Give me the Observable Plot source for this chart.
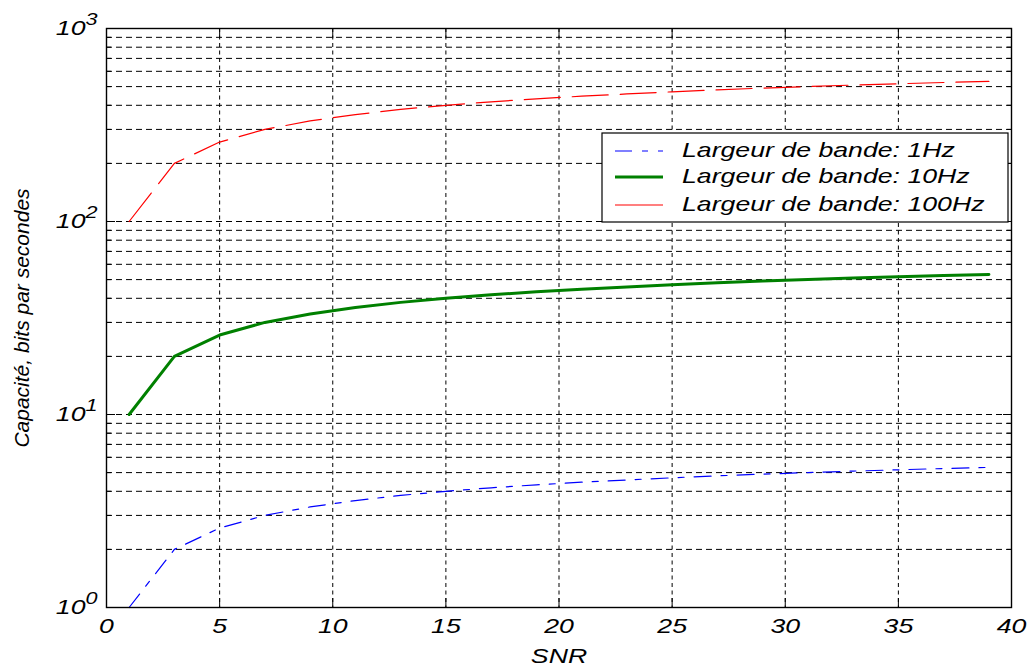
<!DOCTYPE html>
<html><head><meta charset="utf-8">
<script src="https://cdn.jsdelivr.net/npm/d3@7"></script>
<script src="https://cdn.jsdelivr.net/npm/@observablehq/plot@0.6"></script>
<style>
html,body{margin:0;padding:0;background:#fff;}
#chart{width:1027px;height:665px;}
</style></head><body><div id="chart"></div>
<script>
// SNR values (x)
const snr = [1,3,5,7,9,11,13,15,17,19,21,23,25,27,29,31,33,35,37,39];
// Capacité (bits/s) for each bandwidth
const cap1Hz   = [1.00,2.00,2.58,3.00,3.32,3.58,3.81,4.00,4.17,4.32,4.46,4.58,4.70,4.81,4.91,5.00,5.09,5.17,5.25,5.32];
const cap10Hz  = [10.0,20.0,25.8,30.0,33.2,35.8,38.1,40.0,41.7,43.2,44.6,45.8,47.0,48.1,49.1,50.0,50.9,51.7,52.5,53.2];
const cap100Hz = [100,200,258,300,332,358,381,400,417,432,446,458,470,481,491,500,509,517,525,532];
const seriesNames = ["Largeur de bande: 1Hz","Largeur de bande: 10Hz","Largeur de bande: 100Hz"];
const seriesColors = ["#0000ff","#008000","#ff0000"];
const xTicks = [0,5,10,15,20,25,30,35,40];
const yMajor = [1,10,100,1000];
const yExponents = ["0","1","2","3"];
const yMinor = [2,3,4,5,6,7,8,9,20,30,40,50,60,70,80,90,200,300,400,500,600,700,800,900];
const xLabel = "SNR";
const yLabel = "Capacité, bits par secondes";

const toPts = arr => snr.map((s,i)=>({x:s, y:arr[i]}));

const plot = Plot.plot({
  width: 1027, height: 665,
  marginLeft: 106, marginRight: 16, marginTop: 28, marginBottom: 58,
  style: {fontFamily: "'Liberation Sans', Arial, sans-serif", fontSize: "21px", fontStyle: "italic", color: "#000", background: "#fff"},
  x: {domain: [0, 40]},
  y: {type: "log", domain: [1, 1000]},
  marks: [
    Plot.gridY([...yMajor, ...yMinor], {stroke: "#000", strokeOpacity: 1, strokeWidth: 1, strokeDasharray: "6,4"}),
    Plot.gridX(xTicks, {stroke: "#000", strokeOpacity: 1, strokeWidth: 1, strokeDasharray: "4,3.5"}),
    Plot.line(toPts(cap1Hz), {x: "x", y: "y", stroke: seriesColors[0], strokeWidth: 1.2, strokeDasharray: "17,10,6,10"}),
    Plot.line(toPts(cap10Hz), {x: "x", y: "y", stroke: seriesColors[1], strokeWidth: 3}),
    Plot.line(toPts(cap100Hz), {x: "x", y: "y", stroke: seriesColors[2], strokeWidth: 1.2, strokeDasharray: "36,12"}),
    Plot.frame({stroke: "#000", strokeWidth: 1.4}),
    // inner tick marks
    Plot.axisX(xTicks, {anchor: "bottom", tickSize: -9, tickFormat: () => "", label: null}),
    Plot.axisX(xTicks, {anchor: "top", tickSize: -9, tickFormat: () => "", label: null}),
    Plot.axisY(yMajor, {anchor: "left", tickSize: -9, tickFormat: () => "", label: null}),
    Plot.axisY(yMajor, {anchor: "right", tickSize: -9, tickFormat: () => "", label: null}),
    Plot.axisY(yMinor, {anchor: "left", tickSize: -5, tickFormat: () => "", label: null}),
    Plot.axisY(yMinor, {anchor: "right", tickSize: -5, tickFormat: () => "", label: null}),
    // labels
    Plot.axisX(xTicks, {anchor: "bottom", tickSize: 0, tickPadding: 11, tickFormat: d => String(d),
      label: xLabel, labelAnchor: "center", labelOffset: 55, labelArrow: "none"}),
    Plot.axisY(yMajor, {anchor: "left", tickSize: 0, tickPadding: 9,
      tickFormat: d => "10^" + yExponents[yMajor.indexOf(d)],
      label: yLabel, labelAnchor: "center", labelOffset: 92, labelArrow: "none"})
  ]
});
document.getElementById("chart").appendChild(plot);

const svg = d3.select(plot);
// superscript exponents on y tick labels
svg.selectAll("text").each(function(){
  const t = this.textContent;
  if (/^10\^\d$/.test(t)) {
    const [base, exp] = t.split("^");
    const sel = d3.select(this);
    sel.text(null);
    sel.append("tspan").text(base);
    sel.append("tspan").attr("dy", "-10").attr("font-size", "17px").text(exp);
  }
});

// legend
const lg = svg.append("g").attr("font-family", "'Liberation Sans', Arial, sans-serif")
  .attr("font-size", "21px").attr("font-style", "italic").attr("text-anchor", "start");
lg.append("rect").attr("x", 602).attr("y", 133).attr("width", 406).attr("height", 89)
  .attr("fill", "#fff").attr("stroke", "#000").attr("stroke-width", 1.2);
const rowsY = [151, 177, 205];
const dashes = ["17,10,6,10", null, null];
const widths = [1.2, 3, 1.2];
seriesNames.forEach((name, i) => {
  const l = lg.append("line").attr("x1", 615).attr("x2", 663).attr("y1", rowsY[i]).attr("y2", rowsY[i])
    .attr("stroke", seriesColors[i]).attr("stroke-width", widths[i]);
  if (dashes[i]) l.attr("stroke-dasharray", dashes[i]);
  lg.append("text").attr("x", 682).attr("y", rowsY[i] + 5.5).attr("fill", "#000")
    .attr("text-anchor", "start").text(name);
});

// horizontal stretch of horizontal texts (reference glyphs are wide)
svg.selectAll("text").each(function(){
  const tr = this.getAttribute("transform") || "";
  if (tr.includes("rotate")) return;
  if (!this.textContent) return;
  const len = this.getComputedTextLength();
  if (len > 0) {
    this.setAttribute("textLength", (len * 1.27).toFixed(1));
    this.setAttribute("lengthAdjust", "spacingAndGlyphs");
  }
});
</script></body></html>
